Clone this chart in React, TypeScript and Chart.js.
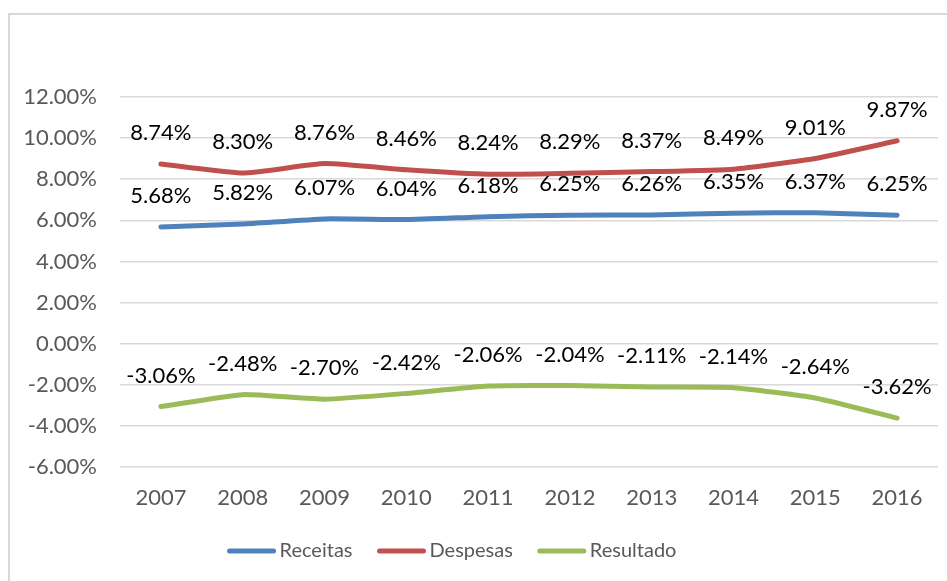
import React, { useEffect, useRef } from "react";
import { Chart, registerables } from "chart.js";

Chart.register(...registerables);

const categories = ["2007", "2008", "2009", "2010", "2011", "2012", "2013", "2014", "2015", "2016"];
const receitas = [5.68, 5.82, 6.07, 6.04, 6.18, 6.25, 6.26, 6.35, 6.37, 6.25];
const despesas = [8.74, 8.3, 8.76, 8.46, 8.24, 8.29, 8.37, 8.49, 9.01, 9.87];
const resultado = [-3.06, -2.48, -2.7, -2.42, -2.06, -2.04, -2.11, -2.14, -2.64, -3.62];
const seriesNames = ["Receitas", "Despesas", "Resultado"];
const seriesColors = ["#4F81BD", "#C0504D", "#9BBB59"];
const yMin = -6;
const yMax = 12;
const yStep = 2;

const FONT = "Lato, 'Open Sans', sans-serif";
const fmt = (v: number) => v.toFixed(2) + "%";

const dataLabelPlugin = {
  id: "dataLabels",
  afterDatasetsDraw(chart: any) {
    const ctx = chart.ctx;
    ctx.save();
    ctx.font = `22px ${FONT}`;
    ctx.fillStyle = "#000000";
    ctx.textAlign = "center";
    ctx.textBaseline = "middle";
    chart.data.datasets.forEach((ds: any, di: number) => {
      const meta = chart.getDatasetMeta(di);
      meta.data.forEach((pt: any, i: number) => {
        ctx.fillText(fmt(ds.data[i]), pt.x, pt.y - 31);
      });
    });
    ctx.restore();
  },
};

const legendPlugin = {
  id: "customLegend",
  afterDraw(chart: any) {
    const ctx = chart.ctx;
    ctx.save();
    ctx.font = `20px ${FONT}`;
    const lineW = 48;
    const textGap = 4;
    const itemGap = 25;
    const centerX = 452;
    const y = 551;
    const items = chart.data.datasets.map((ds: any) => ({
      label: ds.label,
      color: ds.borderColor,
      w: ctx.measureText(ds.label).width,
    }));
    const total =
      items.reduce((s: number, it: any) => s + lineW + textGap + it.w, 0) + itemGap * (items.length - 1);
    let x = centerX - total / 2;
    items.forEach((it: any) => {
      ctx.strokeStyle = it.color;
      ctx.lineWidth = 5;
      ctx.lineCap = "round";
      ctx.beginPath();
      ctx.moveTo(x + 2, y);
      ctx.lineTo(x + lineW - 2, y);
      ctx.stroke();
      ctx.fillStyle = "#595959";
      ctx.textAlign = "left";
      ctx.textBaseline = "middle";
      ctx.fillText(it.label, x + lineW + textGap, y);
      x += lineW + textGap + it.w + itemGap;
    });
    ctx.restore();
  },
};

export default function App() {
  const canvasRef = useRef<HTMLCanvasElement | null>(null);

  useEffect(() => {
    if (!canvasRef.current) return;
    const values = [receitas, despesas, resultado];
    const chart = new Chart(canvasRef.current, {
      type: "line",
      data: {
        labels: categories,
        datasets: values.map((d, i) => ({
          label: seriesNames[i],
          data: d,
          borderColor: seriesColors[i],
          backgroundColor: seriesColors[i],
          borderWidth: 5,
          borderCapStyle: "round",
          borderJoinStyle: "round",
          pointRadius: 0,
          pointHoverRadius: 0,
          tension: 0.15,
          fill: false,
        })),
      },
      options: {
        animation: false,
        responsive: false,
        maintainAspectRatio: false,
        layout: { padding: { top: 97, bottom: 70, left: 0, right: 9 } },
        plugins: {
          legend: { display: false },
          tooltip: { enabled: false },
        },
        scales: {
          x: {
            offset: true,
            grid: { display: false, drawTicks: false },
            border: { display: false },
            ticks: {
              color: "#595959",
              font: { family: FONT, size: 22 },
              padding: 18,
              maxRotation: 0,
            },
            afterFit(scale: any) {
              scale.height = 44;
            },
          },
          y: {
            min: yMin,
            max: yMax,
            grid: { color: "#d9d9d9", lineWidth: 1.5, drawTicks: false },
            border: { display: false },
            ticks: {
              stepSize: yStep,
              color: "#595959",
              font: { family: FONT, size: 22 },
              padding: 23,
              callback: (v: any) => fmt(Number(v)),
            },
            afterFit(scale: any) {
              scale.width = 120;
            },
          },
        },
      },
      plugins: [dataLabelPlugin, legendPlugin],
    } as any);
    return () => chart.destroy();
  }, []);

  return (
    <div
      style={{
        position: "fixed",
        left: 0,
        top: 0,
        width: 947,
        height: 581,
        overflow: "hidden",
        background: "#ffffff",
      }}
    >
      <div
        style={{
          position: "absolute",
          left: 8,
          top: 13,
          width: 1000,
          height: 1000,
          borderLeft: "2px solid #d9d9d9",
          borderTop: "2px solid #d9d9d9",
        }}
      />
      <canvas ref={canvasRef} width={947} height={581} style={{ position: "absolute", left: 0, top: 0 }} />
    </div>
  );
}
